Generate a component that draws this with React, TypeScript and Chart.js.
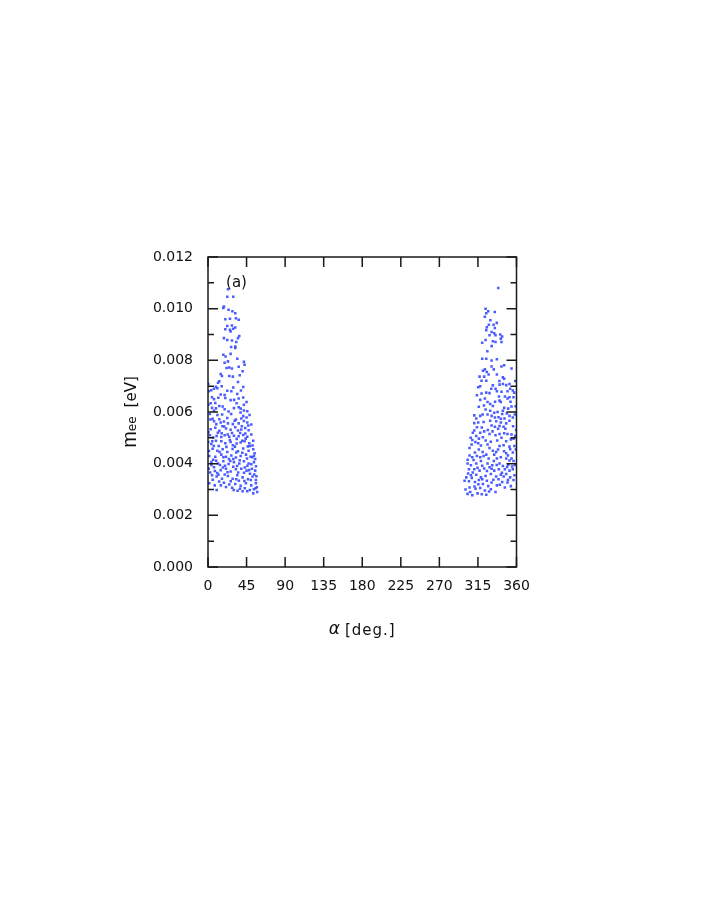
import React, { useEffect, useRef } from "react";
import { Chart, registerables } from "chart.js";

Chart.register(...registerables);

const xTicks = [0, 45, 90, 135, 180, 225, 270, 315, 360];
const yTicks = [0, 0.002, 0.004, 0.006, 0.008, 0.01, 0.012];
const yMinorTicks = [0.001, 0.003, 0.005, 0.007, 0.009, 0.011];

// [alpha (deg), m_ee (eV)]
const leftCluster: [number, number][] = [
  [23.3, 0.01075], [22.5, 0.01046], [29.5, 0.01046], [18.6, 0.01008], [17.9, 0.01003], [31.8, 0.00982],
  [20.2, 0.00959], [25.6, 0.00961], [32.6, 0.00963], [35.8, 0.00957], [22.5, 0.00933], [27.9, 0.00935],
  [20.2, 0.0092], [25.6, 0.00918], [29.5, 0.00922], [31.8, 0.00927], [26.4, 0.00912], [36.5, 0.00894],
  [35.0, 0.00886], [18.6, 0.00886], [22.5, 0.00879], [28.0, 0.00877], [31.8, 0.00853],
  [31.8, 0.00848], [17.9, 0.00822], [26.4, 0.00825], [34.2, 0.00806], [19.4, 0.00791], [23.3, 0.00796],
  [41.9, 0.00794], [42.7, 0.00783], [21.7, 0.0077], [24.8, 0.00772], [27.9, 0.00768], [35.8, 0.00775],
  [40.4, 0.00758], [14.8, 0.00747], [16.3, 0.00739], [24.8, 0.00739], [13.2, 0.00719], [11.7, 0.00713],
  [35.0, 0.00716], [0.3, 0.00708], [9.3, 0.00698], [7.0, 0.0069], [10.9, 0.00692], [29.5, 0.00695],
  [41.1, 0.00697], [22.5, 0.00682], [27.2, 0.0068], [0.8, 0.0068], [3.8, 0.00684], [14.8, 0.00668],
  [19.4, 0.00666], [34.2, 0.0067], [4.7, 0.00657], [7.0, 0.00649], [20.2, 0.00654], [26.4, 0.00646],
  [35.8, 0.00652], [41.1, 0.00656], [3.1, 0.00634], [0.3, 0.00628], [13.2, 0.00623], [17.1, 0.00621],
  [33.4, 0.00634], [35.8, 0.00618], [38.1, 0.00613], [41.9, 0.00628], [45.0, 0.00639], [4.7, 0.00616],
  [9.3, 0.00614], [7.0, 0.00605], [19.4, 0.00611], [30.3, 0.00615], [41.9, 0.00606], [45.8, 0.00603],
  [5.4, 0.00574], [13.2, 0.00572], [22.5, 0.00577], [32.6, 0.00571], [38.8, 0.00575], [45.0, 0.00579],
  [41.1, 0.00584], [2.1, 0.00592], [11.0, 0.00588], [27.0, 0.00592], [48.5, 0.00588],
  [7.0, 0.00564], [14.8, 0.00559], [18.6, 0.00563], [23.3, 0.00556], [31.1, 0.00566], [35.8, 0.00556],
  [41.9, 0.00565], [45.8, 0.00559], [50.5, 0.00552],
  [3.1, 0.00533], [8.5, 0.00539], [13.2, 0.00527], [21.0, 0.00536], [26.4, 0.00531], [31.8, 0.00541],
  [35.0, 0.00528], [38.8, 0.00532], [43.5, 0.00538], [47.4, 0.00529], [43.5, 0.00517], [16.8, 0.00545],
  [2.3, 0.0051], [6.2, 0.00501], [10.1, 0.00507], [15.5, 0.00503], [19.4, 0.0051], [24.8, 0.00504],
  [30.3, 0.00508], [35.8, 0.00506], [41.1, 0.00511], [45.8, 0.00504], [50.5, 0.00513], [28.0, 0.00519],
  [0.3, 0.00484], [3.9, 0.00476], [9.3, 0.00489], [15.5, 0.00487], [20.2, 0.00479], [26.4, 0.00484],
  [33.4, 0.00478], [38.1, 0.00482], [42.7, 0.00487], [48.2, 0.00479], [52.8, 0.00489], [12.5, 0.00468],
  [5.4, 0.00458], [10.9, 0.0045], [17.1, 0.00456], [22.5, 0.00445], [28.7, 0.00457], [35.0, 0.00448],
  [41.1, 0.00459], [47.4, 0.0045], [52.8, 0.00456], [54.4, 0.0044], [31.5, 0.00466], [1.2, 0.00449],
  [1.5, 0.0043], [8.5, 0.00427], [15.5, 0.00435], [21.0, 0.00427], [27.2, 0.00432], [32.6, 0.00424],
  [38.1, 0.0043], [44.3, 0.00435], [49.7, 0.00427], [53.6, 0.00431], [24.5, 0.00418], [6.0, 0.00415],
  [3.9, 0.00406], [11.7, 0.00401], [17.9, 0.00409], [24.1, 0.00399], [30.3, 0.00406], [36.5, 0.00401],
  [41.9, 0.00409], [47.4, 0.00401], [53.6, 0.00406], [34.0, 0.00391], [19.8, 0.00392],
  [0.8, 0.0038], [7.0, 0.00386], [14.8, 0.00375], [21.0, 0.0038], [26.4, 0.0037], [32.6, 0.00378],
  [38.8, 0.0038], [45.0, 0.00373], [51.3, 0.0038], [55.1, 0.00373], [42.0, 0.00365], [10.8, 0.00364],
  [4.7, 0.00355], [10.1, 0.0035], [16.3, 0.00342], [23.3, 0.00352], [28.7, 0.00342], [34.2, 0.00355],
  [40.4, 0.00347], [46.6, 0.0034], [52.0, 0.0035], [55.9, 0.00337], [19.5, 0.00358], [49.0, 0.00361],
  [1.5, 0.00324], [7.8, 0.00316], [18.6, 0.00326], [24.8, 0.00319], [31.8, 0.00321], [38.1, 0.00314],
  [44.3, 0.00324], [50.5, 0.00316], [55.9, 0.00324], [13.0, 0.00331], [36.0, 0.00334],
  [10.1, 0.00298], [37.3, 0.00303], [40.4, 0.00293], [45.8, 0.00293], [53.6, 0.00301], [57.4, 0.0029],
  [52.8, 0.00285], [57.0, 0.00309], [28.2, 0.00307],
  [2.8, 0.00571], [9.7, 0.00553], [16.0, 0.00518], [25.5, 0.00492], [29.0, 0.00471], [37.5, 0.00519],
  [44.0, 0.00497], [49.0, 0.00468], [51.8, 0.00425], [55.0, 0.00418], [46.0, 0.00392], [40.0, 0.00442],
  [33.0, 0.00443], [26.0, 0.0041], [21.5, 0.00465], [13.5, 0.00445], [6.8, 0.00468], [0.5, 0.00522],
  [4.0, 0.00395], [8.0, 0.00372], [12.2, 0.00357], [17.5, 0.00385], [22.8, 0.00367], [29.5, 0.00388],
  [35.2, 0.00366], [43.0, 0.00385], [48.0, 0.00375], [54.0, 0.00358], [56.5, 0.00351], [50.0, 0.00337],
  [42.5, 0.00333], [33.0, 0.0034], [26.5, 0.00332], [21.0, 0.0031], [15.0, 0.00316], [5.5, 0.00338],
  [2.5, 0.00366], [30.0, 0.00298], [34.5, 0.00295], [48.8, 0.00298], [55.5, 0.00305], [43.0, 0.00305],
  [19.0, 0.00544], [29.0, 0.00553], [39.5, 0.00545], [47.0, 0.00548], [11.5, 0.0052], [5.0, 0.00487],
  [23.0, 0.00513], [33.5, 0.00496], [40.0, 0.00489], [46.5, 0.00467], [52.0, 0.0047], [18.0, 0.00425],
  [29.5, 0.00418], [37.0, 0.00413], [45.5, 0.0042], [50.5, 0.00398], [56.0, 0.0039], [9.5, 0.00411],
  [14.0, 0.00395], [38.0, 0.00598], [24.0, 0.00602], [16.5, 0.0059], [30.5, 0.00647], [12.0, 0.00655],
  [8.5, 0.00635], [38.5, 0.00683], [16.0, 0.007], [29.0, 0.00737], [37.0, 0.00742], [20.5, 0.00815],
  [33.0, 0.00871], [27.0, 0.00852], [24.0, 0.00996], [28.5, 0.0099]
];

const rightCluster: [number, number][] = [
  [338.7, 0.0108], [323.9, 0.01], [327.0, 0.0099], [324.7, 0.00982], [323.0, 0.00969], [334.7, 0.00987],
  [327.7, 0.00938], [333.2, 0.00938], [325.4, 0.00928], [324.7, 0.00917], [334.7, 0.00925], [330.9, 0.0091],
  [334.0, 0.00905], [341.0, 0.009], [328.5, 0.00897], [335.5, 0.00897], [343.3, 0.00892], [341.7, 0.00884],
  [332.4, 0.00874], [335.5, 0.00871], [323.9, 0.00879], [320.0, 0.00868], [342.5, 0.00871],
  [320.0, 0.00806], [324.7, 0.00806], [330.9, 0.00799], [337.1, 0.00804], [345.6, 0.00781], [342.5, 0.00776],
  [354.2, 0.00768], [330.9, 0.00776], [323.1, 0.00765], [320.8, 0.0076], [325.4, 0.00755], [316.9, 0.00737],
  [322.3, 0.00737], [337.1, 0.00745], [344.1, 0.00734], [345.6, 0.00729], [319.2, 0.00721], [324.7, 0.00721],
  [332.4, 0.00703], [317.7, 0.007], [315.3, 0.00696], [335.5, 0.0069], [340.2, 0.00706], [344.1, 0.00708],
  [348.0, 0.00704], [351.8, 0.00708], [349.5, 0.0068], [352.6, 0.0069], [355.7, 0.00683], [324.7, 0.00675],
  [328.5, 0.00673], [319.2, 0.00672], [337.1, 0.0068], [342.5, 0.00678], [313.8, 0.00665], [317.7, 0.00647],
  [323.1, 0.00652], [326.2, 0.00639], [329.3, 0.00631], [332.4, 0.00623], [340.2, 0.00644], [341.7, 0.00639],
  [349.5, 0.00652], [351.8, 0.00657], [357.3, 0.00675], [356.5, 0.00657], [345.6, 0.00616], [350.3, 0.00613],
  [354.2, 0.00621], [323.9, 0.0061], [329.3, 0.00605], [334.0, 0.00597], [337.9, 0.006], [343.3, 0.00592],
  [348.7, 0.00594], [310.7, 0.00587], [317.7, 0.00585], [326.2, 0.0059], [334.8, 0.00579], [341.7, 0.00574],
  [351.8, 0.00585], [355.7, 0.00579], [315.3, 0.00559], [321.6, 0.00561], [329.3, 0.00566], [336.3, 0.00564],
  [341.7, 0.00559], [348.0, 0.00556], [351.8, 0.00566], [310.7, 0.00557], [344.1, 0.00605], [359.0, 0.00622],
  [310.7, 0.00528], [313.8, 0.00541], [317.7, 0.0052], [322.3, 0.00525], [330.9, 0.00548], [334.8, 0.00543],
  [340.2, 0.00546], [344.9, 0.00543], [328.5, 0.00515], [335.5, 0.0051], [340.2, 0.00515], [345.6, 0.00518],
  [349.5, 0.00515], [354.2, 0.00513], [356.5, 0.00497], [353.4, 0.00494], [308.4, 0.00492], [313.0, 0.00507],
  [316.1, 0.00497], [320.8, 0.00502], [307.6, 0.00474], [305.2, 0.00461], [315.3, 0.00479], [326.2, 0.00474],
  [328.5, 0.00461], [332.4, 0.0045], [336.3, 0.00445], [334.0, 0.00435], [340.2, 0.00468], [344.9, 0.00471],
  [351.8, 0.00466], [352.6, 0.00456], [355.7, 0.00443], [348.0, 0.0044], [305.2, 0.00432], [308.4, 0.00425],
  [309.9, 0.00414], [313.8, 0.0043], [317.7, 0.00425], [321.6, 0.0043], [324.7, 0.00435], [337.1, 0.0042],
  [341.7, 0.00425], [348.0, 0.0042], [351.8, 0.00412], [354.2, 0.0042], [356.5, 0.0041], [302.9, 0.00401],
  [306.8, 0.00394], [313.0, 0.00401], [318.5, 0.0041], [326.2, 0.00401], [331.7, 0.00394], [340.2, 0.00401],
  [344.1, 0.00391], [350.3, 0.00396], [354.9, 0.00389], [304.5, 0.00378], [310.7, 0.00378], [316.9, 0.00373],
  [322.3, 0.00381], [328.5, 0.00386], [334.0, 0.00373], [339.4, 0.00378], [346.4, 0.00378], [351.8, 0.00373],
  [355.7, 0.00378], [301.4, 0.00347], [306.8, 0.00355], [313.0, 0.00357], [318.5, 0.00347], [323.9, 0.00352],
  [330.1, 0.0036], [336.3, 0.0035], [341.7, 0.00357], [348.0, 0.0036], [352.6, 0.00347], [304.5, 0.00332],
  [311.5, 0.00329], [316.1, 0.00337], [320.8, 0.00321], [325.4, 0.00334], [330.9, 0.00327], [337.1, 0.00316],
  [343.3, 0.00329], [349.5, 0.00327], [356.5, 0.00337], [305.2, 0.00308], [312.2, 0.00303], [317.7, 0.00306],
  [323.1, 0.00296], [330.1, 0.00301], [335.5, 0.0029], [302.9, 0.00283], [308.4, 0.00278], [314.6, 0.00285],
  [324.7, 0.0028], [346.4, 0.00308], [353.4, 0.00313], [299.4, 0.00334], [359.2, 0.00455], [359.5, 0.0053],
  [303.5, 0.00362], [307.8, 0.00345], [311.0, 0.00312], [315.5, 0.0032], [320.0, 0.0034], [327.0, 0.00313],
  [333.0, 0.00338], [339.0, 0.0034], [345.0, 0.0035], [350.0, 0.00337], [357.5, 0.00355], [300.5, 0.003],
  [306.0, 0.0029], [319.5, 0.00282], [328.0, 0.00292], [340.5, 0.00318], [309.0, 0.00366], [314.5, 0.00384],
  [320.0, 0.00392], [325.5, 0.00372], [331.0, 0.0038], [337.0, 0.00395], [343.0, 0.00365], [349.0, 0.00387],
  [358.0, 0.00395], [303.0, 0.00415], [311.5, 0.00443], [316.0, 0.00455], [320.5, 0.00445], [327.5, 0.0042],
  [333.5, 0.0041], [338.5, 0.00455], [345.5, 0.00448], [350.0, 0.00432], [357.5, 0.00468], [306.5, 0.005],
  [312.0, 0.00484], [318.5, 0.0047], [324.0, 0.0049], [330.0, 0.00485], [337.5, 0.0049], [342.5, 0.005],
  [348.0, 0.00487], [358.5, 0.00508], [309.0, 0.0052], [319.5, 0.0054], [326.5, 0.0053], [332.0, 0.00525],
  [338.5, 0.00535], [347.0, 0.00535], [356.0, 0.00545], [313.0, 0.00575], [320.5, 0.0059], [331.0, 0.00585],
  [339.0, 0.0058], [346.0, 0.00575], [358.0, 0.0059], [322.0, 0.00625], [335.0, 0.0064], [346.5, 0.0066],
  [316.0, 0.0062], [339.5, 0.0066], [353.0, 0.0064], [330.5, 0.0069], [358.5, 0.0072], [327.5, 0.00745],
  [340.0, 0.0072], [333.5, 0.00765], [326.0, 0.00835], [331.0, 0.00855], [329.5, 0.00955], [337.0, 0.00945]
];

const pointColor = "rgba(55, 75, 255, 0.9)";

const framePlugin = {
  id: "frameAndText",
  afterDatasetsDraw(chart: any) {
    const { ctx, chartArea, scales } = chart;
    const { left, right, top, bottom } = chartArea;
    const xs = scales.x;
    const ys = scales.y;
    ctx.save();
    ctx.strokeStyle = "#1a1a1a";
    ctx.lineWidth = 1.5;
    ctx.strokeRect(left, top, right - left, bottom - top);
    ctx.beginPath();
    for (const v of yTicks) {
      const py = ys.getPixelForValue(v);
      ctx.moveTo(left, py);
      ctx.lineTo(left + 10, py);
      ctx.moveTo(right, py);
      ctx.lineTo(right - 10, py);
    }
    for (const v of yMinorTicks) {
      const py = ys.getPixelForValue(v);
      ctx.moveTo(left, py);
      ctx.lineTo(left + 6, py);
      ctx.moveTo(right, py);
      ctx.lineTo(right - 6, py);
    }
    for (const v of xTicks) {
      const px = xs.getPixelForValue(v);
      ctx.moveTo(px, bottom);
      ctx.lineTo(px, bottom - 10);
      ctx.moveTo(px, top);
      ctx.lineTo(px, top + 10);
    }
    ctx.stroke();

    ctx.fillStyle = "#111";
    ctx.font = '15px "DejaVu Sans"';
    ctx.textAlign = "center";
    ctx.textBaseline = "middle";
    ctx.fillText("(a)", left + 28.5, top + 26);

    // x title
    ctx.textAlign = "left";
    ctx.textBaseline = "alphabetic";
    const cx = (left + right) / 2;
    const xBase = bottom + 67;
    ctx.font = 'italic 17px "DejaVu Sans"';
    const aW = ctx.measureText("α").width;
    ctx.font = '15px "DejaVu Sans"';
    (ctx as any).letterSpacing = "1px";
    const dW = ctx.measureText("[deg.]").width;
    const gap = 5;
    const tot = aW + gap + dW;
    let sx = cx - tot / 2;
    (ctx as any).letterSpacing = "0px";
    ctx.font = 'italic 17px "DejaVu Sans"';
    ctx.fillText("α", sx, xBase);
    sx += aW + gap;
    ctx.font = '15px "DejaVu Sans"';
    (ctx as any).letterSpacing = "1px";
    ctx.fillText("[deg.]", sx, xBase + 1);
    (ctx as any).letterSpacing = "0px";

    // y title
    const cy = (top + bottom) / 2;
    const yBase = left - 72;
    ctx.translate(yBase, cy);
    ctx.rotate(-Math.PI / 2);
    ctx.font = '20px "Liberation Sans"';
    const mW = ctx.measureText("m").width;
    ctx.font = '12px "DejaVu Sans"';
    const eW = ctx.measureText("ee").width;
    ctx.font = '15px "DejaVu Sans"';
    const bW = ctx.measureText("[eV]").width;
    const g2 = 9;
    const total = mW + eW + g2 + bW;
    let tx = -total / 2;
    ctx.font = '20px "Liberation Sans"';
    ctx.fillText("m", tx, 0);
    tx += mW;
    ctx.font = '12px "DejaVu Sans"';
    ctx.fillText("ee", tx, 0);
    tx += eW + g2;
    ctx.font = '15px "DejaVu Sans"';
    ctx.fillText("[eV]", tx, 0);
    ctx.restore();
  },
};

export default function App() {
  const ref = useRef<HTMLCanvasElement | null>(null);
  useEffect(() => {
    if (!ref.current) return;
    const data = [...leftCluster, ...rightCluster].map(([a, m]) => ({ x: a, y: m }));
    const chart = new Chart(ref.current, {
      type: "scatter",
      data: {
        datasets: [
          {
            data,
            pointStyle: "rect",
            pointRadius: 1.8,
            pointBorderWidth: 0,
            backgroundColor: pointColor,
            borderColor: pointColor,
          },
        ],
      },
      options: {
        animation: false,
        responsive: true,
        maintainAspectRatio: false,
        events: [],
        layout: { padding: { left: 148, top: 257, right: 191.5, bottom: 300 } },
        plugins: { legend: { display: false }, tooltip: { enabled: false } },
        scales: {
          x: {
            type: "linear",
            min: 0,
            max: 360,
            afterFit: (s: any) => {
              s.height = 50;
            },
            afterBuildTicks: (s: any) => {
              s.ticks = xTicks.map((v) => ({ value: v }));
            },
            grid: { display: false, drawTicks: false },
            border: { display: false },
            ticks: {
              padding: 11,
              color: "#111",
              font: { family: "DejaVu Sans", size: 14 },
              maxRotation: 0,
              autoSkip: false,
              callback: (v: any) => String(v),
            },
          },
          y: {
            type: "linear",
            min: 0,
            max: 0.012,
            afterFit: (s: any) => {
              s.width = 60;
            },
            afterBuildTicks: (s: any) => {
              s.ticks = yTicks.map((v) => ({ value: v }));
            },
            grid: { display: false, drawTicks: false },
            border: { display: false },
            ticks: {
              padding: 15,
              color: "#111",
              font: { family: "DejaVu Sans", size: 14 },
              autoSkip: false,
              callback: (v: any) => Number(v).toFixed(3),
            },
          },
        },
      },
      plugins: [framePlugin],
    });
    return () => chart.destroy();
  }, []);
  return (
    <div style={{ position: "absolute", left: 0, top: 0, width: 708, height: 917 }}>
      <canvas ref={ref} />
    </div>
  );
}
